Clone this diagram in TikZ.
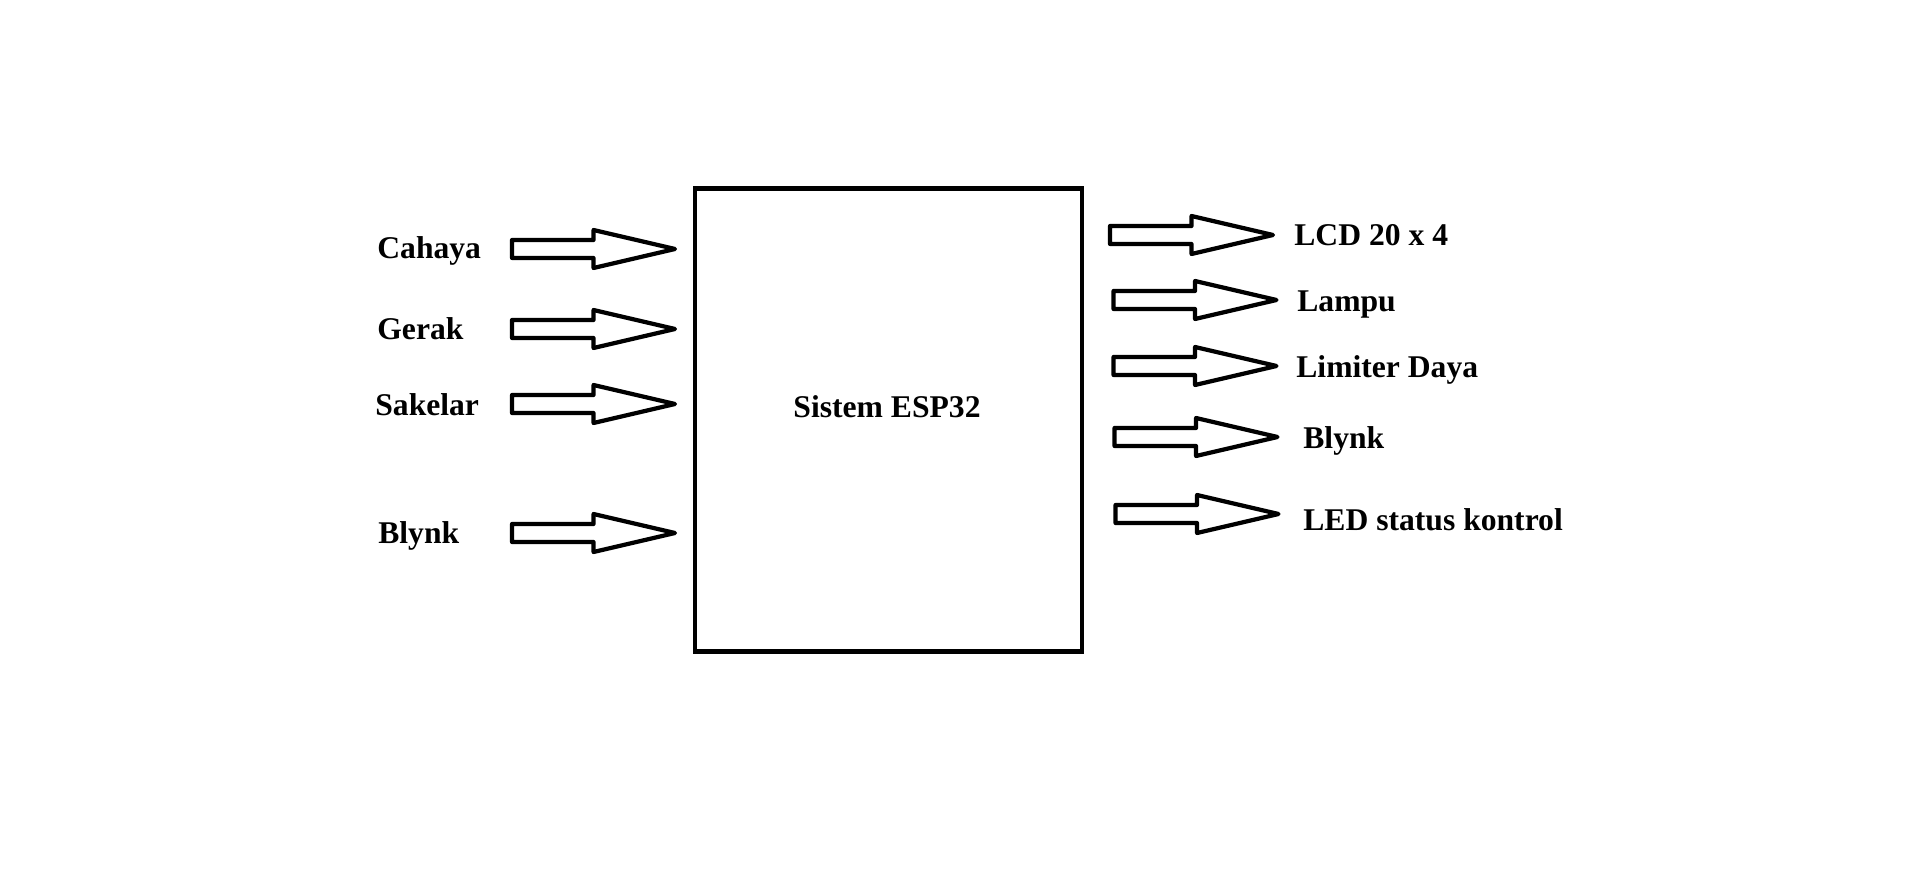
\documentclass[tikz,border=0pt]{standalone}
\usepackage{fontspec}
\setmainfont{Liberation Serif}
\begin{document}
\begin{tikzpicture}[
		x=0.02cm, y=-0.02cm,
		every node/.style={font=\fontsize{18}{22}\selectfont\bfseries},
		box/.style={rectangle, draw, line width=2.4pt, minimum width=7.74cm, minimum height=9.26cm},
		blockarrow/.pic={
			\draw[line width=2.4pt, line join=round]
				(-81.5,-9) -- (0,-9) -- (0,-19) -- (81.5,0) -- (0,19) -- (0,9) -- (-81.5,9) -- cycle;
		},
		lbl/.style={anchor=west, inner sep=0pt, text height=12pt, text depth=0pt}
	]
	\useasboundingbox (0,0) rectangle (1914,871);

	\node[box] (esp) at (888.5,420) {};
	\node[lbl, anchor=center] (esptext) at (887,407) {Sistem ESP32};

	% masukan
	\node[lbl] (cahaya) at (377,248) {Cahaya};
	\node[lbl] (gerak) at (377,329) {Gerak};
	\node[lbl] (sakelar) at (375,405) {Sakelar};
	\node[lbl] (blynkin) at (378,533) {Blynk};

	\pic (acahaya) at (593.5,249) {blockarrow};
	\pic (agerak) at (593.5,329) {blockarrow};
	\pic (asakelar) at (593.5,404) {blockarrow};
	\pic (ablynkin) at (593.5,533) {blockarrow};

	% keluaran
	\pic (alcd) at (1191.5,235) {blockarrow};
	\pic (alampu) at (1195,300) {blockarrow};
	\pic (alimiter) at (1195,366) {blockarrow};
	\pic (ablynkout) at (1196,437) {blockarrow};
	\pic (aled) at (1197,514) {blockarrow};

	\node[lbl] (lcd) at (1294,235) {LCD 20 x 4};
	\node[lbl] (lampu) at (1297,301) {Lampu};
	\node[lbl] (limiter) at (1296,367) {Limiter Daya};
	\node[lbl] (blynkout) at (1303,438) {Blynk};
	\node[lbl] (led) at (1303,520) {LED status kontrol};
\end{tikzpicture}
\end{document}
